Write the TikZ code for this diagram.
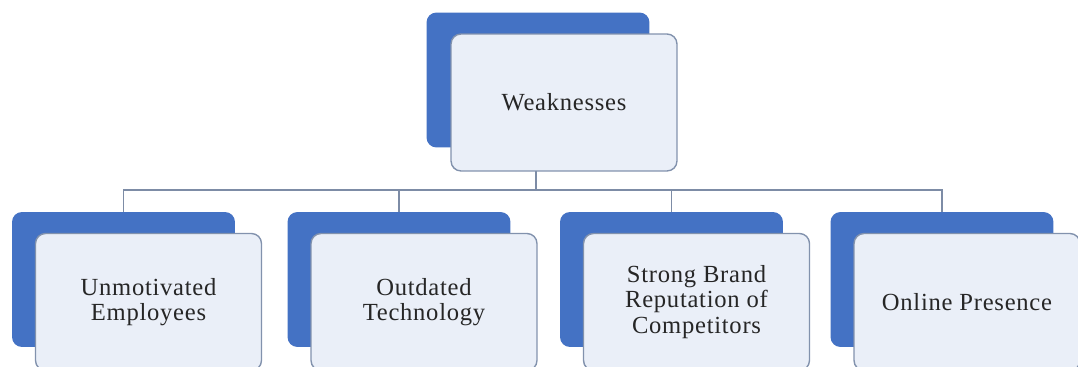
\documentclass[tikz,border=0pt]{standalone}
\usepackage{fontspec}
\setmainfont{Liberation Serif}[LetterSpace=3]
\usetikzlibrary{positioning}
\definecolor{boxBlue}{HTML}{4472C4}
\definecolor{boxFill}{HTML}{EAEFF8}
\definecolor{boxLine}{HTML}{8292AD}
\definecolor{linkGray}{HTML}{7D8CA6}
\tikzstyle{backbox}=[fill=boxBlue, rounded corners=0.2cm, minimum width=4.46cm, minimum height=2.7cm, inner sep=0pt]
\tikzstyle{frontbox}=[draw=boxLine, fill=boxFill, line width=0.8pt, rounded corners=0.2cm, minimum width=4.52cm, minimum height=2.74cm, inner sep=2pt, align=center, text=black!85, font=\fontsize{14}{14.5}\selectfont]
\tikzstyle{link}=[draw=linkGray, line width=1.1pt]

\begin{document}
\begin{tikzpicture}[x=0.02cm, y=-0.02cm]
    \useasboundingbox (0,0) rectangle (1078,367);

    % back boxes
    \node[backbox] (wkBack) at (538, 80) {};
    \node[backbox] (emBack) at (123.5, 279.5) {};
    \node[backbox] (teBack) at (399, 279.5) {};
    \node[backbox] (brBack) at (671.5, 279.5) {};
    \node[backbox] (onBack) at (942, 279.5) {};

    % Links
    \coordinate (hub) at (536, 190);
    \draw[link] (wkBack.south -| hub) -- (hub);
    \draw[link] (hub) -| (emBack.north);
    \draw[link] (hub) -| (teBack.north);
    \draw[link] (hub) -| (brBack.north);
    \draw[link] (hub) -| (onBack.north);

    % front boxes
    \node[frontbox] (wk) at (564, 102.5) {Weaknesses};
    \node[frontbox] (em) at (148.5, 302) {Unmotivated\\Employees};
    \node[frontbox] (te) at (424, 302) {Outdated\\Technology};
    \node[frontbox] (br) at (696.5, 302) {Strong Brand\\Reputation of\\Competitors};
    \node[frontbox] (on) at (967, 302) {Online Presence};

\end{tikzpicture}
\end{document}
